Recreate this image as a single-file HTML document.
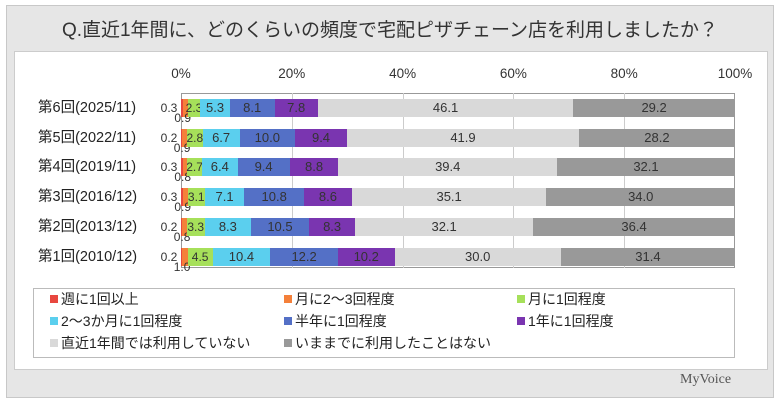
<!DOCTYPE html>
<html><head><meta charset="utf-8"><style>
body{margin:0;width:780px;height:405px;background:#fff;position:relative;overflow:hidden;font-family:"Liberation Sans","Noto Sans CJK JP",sans-serif;}
.a{position:absolute}
.lbl{position:absolute;font-size:13px;color:#333;text-align:center;line-height:18px;white-space:nowrap}
.cat{position:absolute;font-size:14.5px;color:#222;left:38px;line-height:18px}
.tick{position:absolute;top:66px;font-size:13.5px;color:#333;width:60px;text-align:center}
.leg{position:absolute;font-size:14px;color:#222;line-height:18px}
.leg i{display:inline-block;width:8px;height:8px;margin-right:3px;vertical-align:1px}
</style></head><body>
<div class="a" style="left:6px;top:5px;width:768px;height:393px;background:#e6e6e6;border:1px solid #c8c8c8;box-sizing:border-box"></div>
<div class="a" style="left:6px;top:15px;width:768px;text-align:center;font-size:19px;color:#333">Q.直近1年間に、どのくらいの頻度で宅配ピザチェーン店を利用しましたか？</div>
<div class="a" style="left:14px;top:51px;width:754px;height:319px;background:#fff;border:1px solid #ccc;box-sizing:border-box"></div>
<div class="a" style="left:680px;top:372px;font-size:14px;color:#555;font-family:'Liberation Serif',serif">MyVoice</div>
<div id="plot" class="a" style="left:181px;top:93px;width:554px;height:175px;border:1px solid #999;box-sizing:border-box"></div>
<div id="c"></div>
<div class="a" style="left:33px;top:288px;width:702px;height:70px;border:1px solid #bbb;box-sizing:border-box"></div>
<div class="leg" style="left:50px;top:290px"><i style="background:#e8473f"></i>週に1回以上</div>
<div class="leg" style="left:284px;top:290px"><i style="background:#f4803a"></i>月に2～3回程度</div>
<div class="leg" style="left:517px;top:290px"><i style="background:#a6e05a"></i>月に1回程度</div>
<div class="leg" style="left:50px;top:312px"><i style="background:#5bcfee"></i>2～3か月に1回程度</div>
<div class="leg" style="left:284px;top:312px"><i style="background:#5470c6"></i>半年に1回程度</div>
<div class="leg" style="left:517px;top:312px"><i style="background:#7a35b0"></i>1年に1回程度</div>
<div class="leg" style="left:50px;top:334px"><i style="background:#d9d9d9"></i>直近1年間では利用していない</div>
<div class="leg" style="left:284px;top:334px"><i style="background:#999"></i>いままでに利用したことはない</div>
<script>
var X=181,W=554,cols=["#e8473f","#f4803a","#a6e05a","#5bcfee","#5470c6","#7a35b0","#d9d9d9","#999999"];
var rows=[["第6回(2025/11)",[0.3,0.9,2.3,5.3,8.1,7.8,46.1,29.2]],["第5回(2022/11)",[0.2,0.9,2.8,6.7,10.0,9.4,41.9,28.2]],["第4回(2019/11)",[0.3,0.8,2.7,6.4,9.4,8.8,39.4,32.1]],["第3回(2016/12)",[0.3,0.9,3.1,7.1,10.8,8.6,35.1,34.0]],["第2回(2013/12)",[0.2,0.8,3.3,8.3,10.5,8.3,32.1,36.4]],["第1回(2010/12)",[0.2,1.0,4.5,10.4,12.2,10.2,30.0,31.4]]];
var h="";
for(var g=1;g<5;g++)h+='<div class="a" style="left:'+(X+W*g/5)+'px;top:93px;width:1px;height:175px;background:#ccc"></div>';
for(var g=0;g<=5;g++)h+='<div class="tick" style="left:'+(X+W*g/5-30)+'px">'+(g*20)+'%</div>';
rows.forEach(function(r,i){var cy=108+i*29.7,top=cy-9,s=0;
h+='<div class="cat" style="top:'+top+'px">'+r[0]+'</div>';
var sum=r[1].reduce(function(a,b){return a+b},0);
r[1].forEach(function(v,k){var x=X+W*s/sum,w=W*v/sum;
h+='<div class="a" style="left:'+x+'px;top:'+top+'px;width:'+(w+0.5)+'px;height:18px;background:'+cols[k]+'"></div>';
var t=v.toFixed(1);
if(k==0)h+='<div class="lbl" style="left:'+(x-22)+'px;top:'+top+'px;width:20px;font-size:12px">'+t+'</div>';
else if(k==1)h+='<div class="lbl" style="left:'+(x-10)+'px;top:'+(top+10)+'px;width:20px;font-size:12px">'+t+'</div>';
else h+='<div class="lbl" style="left:'+(x+w/2-20)+'px;top:'+top+'px;width:40px;'+(k==2?'font-size:12px':'')+'">'+t+'</div>';
s+=v;});});
document.getElementById("c").innerHTML=h;
</script>
</body></html>
